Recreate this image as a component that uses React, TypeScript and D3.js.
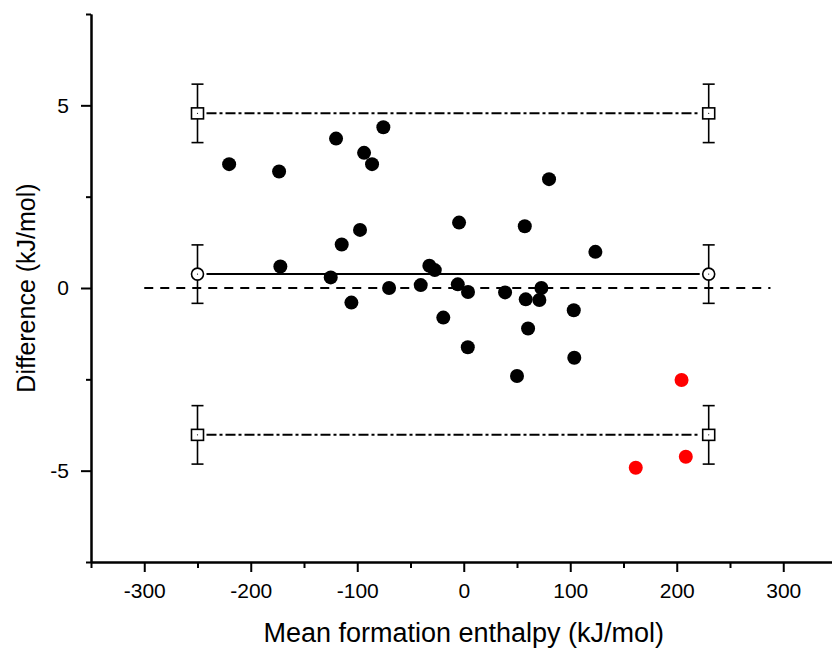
import React, { useEffect, useRef } from "react";
import * as d3 from "d3";

// Bland-Altman style data (mean formation enthalpy vs difference), kJ/mol
const meanX = [
  -220.3, -173.4, -119.9, -75.5, -93.6, -86.1, 80.1, -172.2, -114.6, -97.4,
  -124.9, -105.5, -70.1, -40.4, -32.3, -27.2, -19.2, -4.4, -5.6, 4.0,
  3.8, 38.8, 50.0, 57.3, 58.2, 60.4, 71.0, 72.9, 103.3, 103.8, 123.6,
];
const diffY = [
  3.39, 3.19, 4.09, 4.4, 3.7, 3.39, 2.98, 0.59, 1.19, 1.59,
  0.29, -0.4, 0.0, 0.08, 0.61, 0.49, -0.81, 1.79, 0.1, -0.11,
  -1.62, -0.12, -2.41, 1.69, -0.31, -1.11, -0.33, 0.0, -0.61, -1.91, 0.99,
];
const outlierX = [161.5, 204.5, 208.5];
const outlierY = [-4.92, -2.52, -4.62];

// bias and limits of agreement, with their confidence intervals
const limitNames = ["upper", "bias", "lower"];
const limitValues = [4.78, 0.38, -4.02];
const limitCI = [0.8, 0.8, 0.8];
const limitEnds = [-250, 230];
const zeroLine = [-300, 288];

const xTicks = [-300, -200, -100, 0, 100, 200, 300];
const xMinor = [-350, -250, -150, -50, 50, 150, 250, 350];
const yTicks = [-5, 0, 5];
const yMinor = [-7.5, -2.5, 2.5, 7.5];

const W = 832;
const H = 648;
const FONT = "'Liberation Sans', Arial, sans-serif";

const x = d3.scaleLinear().domain([-350, 350]).range([91, 836.5]);
const y = d3.scaleLinear().domain([-7.5, 7.5]).range([562, 14]);

const App = () => {
  const xAxisRef = useRef<SVGGElement>(null);
  const yAxisRef = useRef<SVGGElement>(null);

  useEffect(() => {
    // plain hyphen for negatives, like the original
    const fmt = (d: d3.NumberValue) => String(d);

    const gx = d3.select(xAxisRef.current);
    gx.selectAll("*").remove();
    gx.append("g")
      .call(d3.axisBottom(x).tickValues(xTicks).tickSize(10).tickSizeOuter(0).tickPadding(11).tickFormat(fmt));
    gx.append("g")
      .call(d3.axisBottom(x).tickValues(xMinor).tickSize(6).tickSizeOuter(0).tickFormat(() => ""));

    const gy = d3.select(yAxisRef.current);
    gy.selectAll("*").remove();
    gy.append("g")
      .call(d3.axisLeft(y).tickValues(yTicks).tickSize(10).tickSizeOuter(0).tickPadding(12).tickFormat(fmt));
    gy.append("g")
      .call(d3.axisLeft(y).tickValues(yMinor).tickSize(5).tickSizeOuter(0).tickFormat(() => ""));

    [gx, gy].forEach((g) => {
      g.selectAll(".domain").attr("stroke", "#000").attr("stroke-width", 2);
      g.selectAll(".tick line").attr("stroke", "#000").attr("stroke-width", 2);
      g.selectAll(".tick text")
        .attr("fill", "#000")
        .style("font-family", FONT)
        .style("font-size", "21px");
    });
  }, []);

  const dashFor = (i: number) => (limitNames[i] === "bias" ? undefined : "10,3,3,3");

  return (
    <svg width={W} height={H} style={{ position: "absolute", left: 0, top: 0, background: "#fff" }}>
      <rect width={W} height={H} fill="#fff" />

      {/* zero reference */}
      <line x1={x(zeroLine[0])} x2={x(zeroLine[1])} y1={y(0)} y2={y(0)}
        stroke="#000" strokeWidth={2} strokeDasharray="9,7" />

      {/* bias and limits of agreement */}
      {limitValues.map((v, i) => (
        <line key={"l" + i} x1={x(limitEnds[0]) + 9} x2={x(limitEnds[1]) - 9} y1={y(v)} y2={y(v)}
          stroke="#000" strokeWidth={2} strokeDasharray={dashFor(i)} />
      ))}

      {/* scatter points */}
      {meanX.map((m, i) => (
        <circle key={"p" + i} cx={x(m)} cy={y(diffY[i])} r={7} fill="#000" />
      ))}
      {outlierX.map((m, i) => (
        <circle key={"o" + i} cx={x(m)} cy={y(outlierY[i])} r={7} fill="#ff0000" />
      ))}

      {/* end markers with error bars */}
      {limitValues.map((v, i) =>
        limitEnds.map((e, j) => {
          const cx = x(e);
          const top = y(v + limitCI[i]);
          const bot = y(v - limitCI[i]);
          return (
            <g key={"m" + i + "-" + j} stroke="#000" strokeWidth={1.6}>
              <line x1={cx} x2={cx} y1={top} y2={bot} />
              <line x1={cx - 6} x2={cx + 6} y1={top} y2={top} />
              <line x1={cx - 6} x2={cx + 6} y1={bot} y2={bot} />
              {limitNames[i] === "bias" ? (
                <circle cx={cx} cy={y(v)} r={6} fill="#fff" />
              ) : (
                <rect x={cx - 6} y={y(v) - 5.5} width={12} height={11} fill="#fff" />
              )}
              <circle cx={cx} cy={y(v)} r={0.6} fill="#000" stroke="none" />
            </g>
          );
        })
      )}

      <g ref={xAxisRef} transform={`translate(0,${y(-7.5)})`} />
      <g ref={yAxisRef} transform={`translate(${x(-350)},0)`} />

      <text x={x(0)} y={642} textAnchor="middle" fontFamily={FONT} fontSize={27}>
        Mean formation enthalpy (kJ/mol)
      </text>
      <text transform={`translate(35,${y(0)}) rotate(-90)`} textAnchor="middle" fontFamily={FONT} fontSize={25}>
        Difference (kJ/mol)
      </text>
    </svg>
  );
};

export default App;
